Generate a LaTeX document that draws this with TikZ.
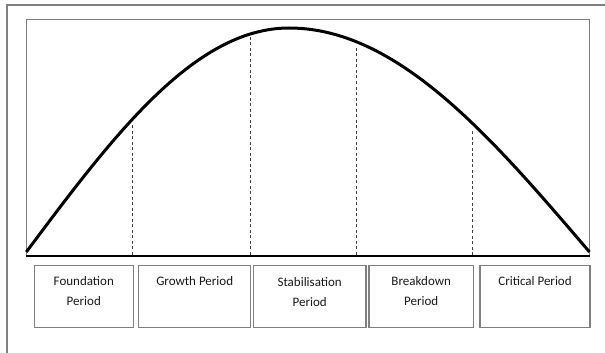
\documentclass[tikz,border=0pt]{standalone}
\usepackage{fontspec}
\setmainfont{Carlito}
\usetikzlibrary{positioning}
\definecolor{framegray}{RGB}{128,128,128}
\tikzset{every picture/.style={line width=0.75pt}}

\begin{document}
\begin{tikzpicture}[x=1pt, y=-1pt,
    periodbox/.style={draw=framegray, line width=1.2pt, minimum height=61.6pt, inner sep=0pt},
    periodtext/.style={align=center, inner sep=0pt, font=\fontsize{13}{20}\selectfont, text=black!90},
    cutline/.style={black!75, line width=0.9pt, dash pattern=on 3pt off 2.5pt}]
    \useasboundingbox (0,0) rectangle (605,353);

    % 外框
    \draw[framegray, line width=1.2pt] (7,353) -- (7,5) -- (605,5);

    % 图表框
    \draw[framegray, line width=1pt] (26.3,256) -- (26.3,20) -- (589.5,20) -- (589.5,256);
    \draw[line width=1.3pt] (26.3,256) -- (589.5,256);

    % 生命周期曲线
    \draw[line width=3pt] (26.3,252) sin (289,28) cos (589.5,252);

    % 分隔虚线
    \draw[cutline] (132.7,125) -- (132.7,256);
    \draw[cutline] (250,37) -- (250,256);
    \draw[cutline] (356,48) -- (356,256);
    \draw[cutline] (472.5,131) -- (472.5,256);

    % 阶段方框
    \node[periodbox, minimum width=99pt] (found) at (83.8,296.5) {};
    \node[periodbox, minimum width=112pt] (growth) at (194.7,296.5) {};
    \node[periodbox, minimum width=112.7pt] (stab) at (309.7,296.5) {};
    \node[periodbox, minimum width=104.3pt] (brk) at (421.2,296.5) {};
    \node[periodbox, minimum width=110pt] (crit) at (535,296.5) {};

    % 阶段名称
    \node[periodtext, below=11pt of found.north] (foundtxt) {Foundation\\Period};
    \node[periodtext, below=11pt of growth.north] (growthtxt) {Growth Period};
    \node[periodtext, below=11.5pt of stab.north] (stabtxt) {Stabilisation\\Period};
    \node[periodtext, below=11pt of brk.north] (brktxt) {Breakdown\\Period};
    \node[periodtext, below=11pt of crit.north] (crittxt) {Critical Period};
\end{tikzpicture}
\end{document}
